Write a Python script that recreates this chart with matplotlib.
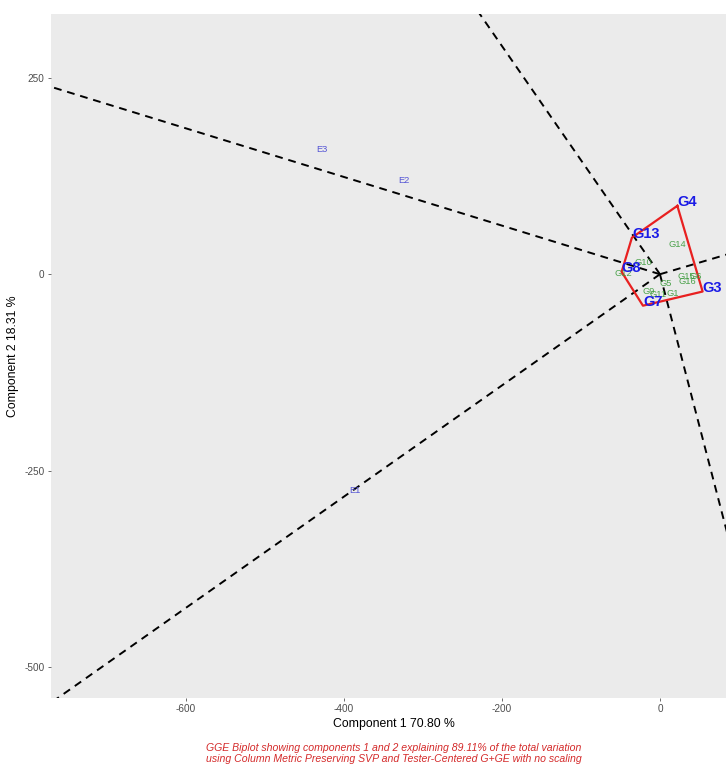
import numpy as np
import matplotlib
matplotlib.use("Agg")
import matplotlib.pyplot as plt

plt.rcParams['font.family'] = ['Liberation Sans', 'DejaVu Sans']
plt.rcParams['axes.unicode_minus'] = False

# hull genotypes (polygon vertices, in drawing order)
hull_names = ["G4", "G3", "G7", "G8", "G13"]
hull_x = [22.0, 54.0, -21.5, -48.5, -35.5]
hull_y = [87.0, -22.0, -40.0, 3.0, 46.5]

# other genotypes (label centres)
gen_names = ["G14", "G10", "G12", "G5", "G1", "G9", "G11", "G15", "G6", "G16"]
gen_x = [22.4, -20.5, -46.4, 7.4, 15.6, -14.8, -2.9, 33.8, 45.6, 34.6]
gen_y = [37.3, 14.6, 1.0, -11.2, -24.0, -21.9, -26.0, -2.3, -2.3, -9.5]

# environments
env_names = ["E1", "E2", "E3"]
env_x = [-386.0, -324.0, -428.0]
env_y = [-275.5, 119.0, 158.4]

# a point on each sector ray (rays start at the origin)
ray_x = [-771.0, -228.0, -762.0, 83.5, 83.5]
ray_y = [238.5, 331.0, -539.0, 24.8, -323.0]

xticks = [-600, -400, -200, 0]
yticks = [-500, -250, 0, 250]

W, H = 726, 765
fig = plt.figure(figsize=(W / 100, H / 100), dpi=100)
ax = fig.add_axes([50.7 / W, 1 - 698 / H, (737 - 50.7) / W, (698 - 14) / H])
ax.set_facecolor("#EBEBEB")
for s in ax.spines.values():
    s.set_visible(False)

ax.set_xlim(-771, 97.5)
ax.set_ylim(-539, 331)

# sector lines
for rx, ry in zip(ray_x, ray_y):
    ax.plot([0, rx * 3], [0, ry * 3], color="black", lw=1.4,
            linestyle=(0, (4, 3)), zorder=2)

# polygon
px = hull_x + hull_x[:1]
py = hull_y + hull_y[:1]
ax.plot(px, py, color="#E82020", lw=1.6, zorder=3)

# labels
for n, x, y in zip(gen_names, gen_x, gen_y):
    ax.text(x, y, n, color="#3A9A3A", fontsize=6.7, ha="center", va="center",
            alpha=0.9, zorder=4)
for n, x, y in zip(env_names, env_x, env_y):
    ax.text(x, y, n, color="#5555D5", fontsize=6.7, ha="center", va="center",
            zorder=4)
for n, x, y in zip(hull_names, hull_x, hull_y):
    ax.text(x, y, n, color="#1A1AE6", fontsize=10.5, fontweight="bold",
            ha="left", va="baseline", zorder=5)

ax.set_xticks(xticks)
ax.set_yticks(yticks)
ax.tick_params(axis="both", length=2.5, width=0.6, color="#555555",
               labelcolor="#4D4D4D", labelsize=7.2, pad=2)

ax.set_xlabel("Component 1 70.80 %", fontsize=8.8, color="black", labelpad=3)
ax.set_ylabel("Component 2 18.31 %", fontsize=8.8, color="black", labelpad=4)

fig.text(394 / W, 1 - 748 / H,
         "GGE Biplot showing components 1 and 2 explaining 89.11% of the total variation",
         color="#D42A2A", fontsize=7.6, style="italic", ha="center", va="center")
fig.text(394 / W, 1 - 758.5 / H,
         "using Column Metric Preserving SVP and Tester-Centered G+GE with no scaling",
         color="#D42A2A", fontsize=7.6, style="italic", ha="center", va="center")

fig.savefig("out.png", dpi=100)
